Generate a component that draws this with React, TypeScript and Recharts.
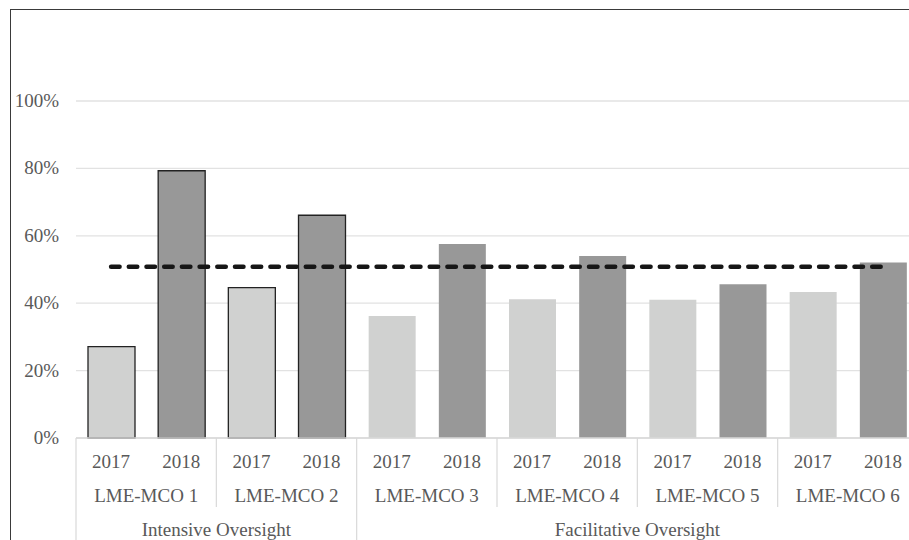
import React from "react";
import {
  ComposedChart,
  Bar,
  Cell,
  Line,
  XAxis,
  YAxis,
  CartesianGrid,
} from "recharts";

const YEARS = ["2017", "2018"];
const MCOS = [
  "LME-MCO 1",
  "LME-MCO 2",
  "LME-MCO 3",
  "LME-MCO 4",
  "LME-MCO 5",
  "LME-MCO 6",
];
const OVERSIGHT = [
  "Intensive Oversight",
  "Intensive Oversight",
  "Facilitative Oversight",
  "Facilitative Oversight",
  "Facilitative Oversight",
  "Facilitative Oversight",
];
const VALUES_2017 = [0.271, 0.446, 0.362, 0.412, 0.41, 0.433];
const VALUES_2018 = [0.793, 0.661, 0.576, 0.54, 0.456, 0.521];
const STATEWIDE = 0.508;
const Y_TICKS = [0, 0.2, 0.4, 0.6, 0.8, 1];

const data = MCOS.flatMap((mco, i) =>
  YEARS.map((year) => ({
    key: `${mco}-${year}`,
    year,
    mco,
    oversight: OVERSIGHT[i],
    value: year === "2017" ? VALUES_2017[i] : VALUES_2018[i],
    statewide: STATEWIDE,
  }))
);

const CHART_W = 940;
const CHART_H = 540;
const Y_AXIS_W = 76;
const MARGIN = { top: 101, right: 22, left: 0, bottom: 0 };
const BAND = (CHART_W - MARGIN.left - MARGIN.right - Y_AXIS_W) / data.length;

const FONT = "Liberation Serif";
const TEXT = "#595959";
const SEP = "#d9d9d9";
const LIGHT = "#d0d1d0";
const DARK = "#989898";

function XTick(props: any) {
  const { x, y, index } = props;
  const row = data[index];
  if (!row) return null;
  const left = x - BAND / 2;
  const right = x + BAND / 2;
  const superStart = index === 0 || data[index - 1].oversight !== row.oversight;
  const groupStart = index % 2 === 0;
  const superCount = data.filter((d) => d.oversight === row.oversight).length;
  const isLast = index === data.length - 1;
  return (
    <g>
      <text x={x} y={y + 30} textAnchor="middle" fontFamily={FONT} fontSize={19} fill={TEXT}>
        {row.year}
      </text>
      {!groupStart && (
        <text x={left} y={y + 64} textAnchor="middle" fontFamily={FONT} fontSize={19} fill={TEXT}>
          {row.mco}
        </text>
      )}
      {groupStart && (
        <line
          x1={left}
          x2={left}
          y1={y}
          y2={superStart ? y + 110 : y + 69}
          stroke={SEP}
          strokeWidth={1.2}
        />
      )}
      {isLast && (
        <line x1={right} x2={right} y1={y} y2={y + 110} stroke={SEP} strokeWidth={1.2} />
      )}
      {superStart && (
        <text
          x={left + (superCount * BAND) / 2}
          y={y + 98}
          textAnchor="middle"
          fontFamily={FONT}
          fontSize={19}
          fill={TEXT}
        >
          {row.oversight}
        </text>
      )}
    </g>
  );
}

function YTick(props: any) {
  const { x, y, payload } = props;
  return (
    <text x={x} y={y} dy={6} textAnchor="end" fontFamily={FONT} fontSize={19} fill={TEXT}>
      {`${Math.round(payload.value * 100)}%`}
    </text>
  );
}

export default function App() {
  return (
    <div
      style={{
        position: "absolute",
        left: 0,
        top: 0,
        width: 909,
        height: 540,
        overflow: "hidden",
        background: "#fff",
      }}
    >
      <div
        style={{
          position: "absolute",
          left: 10,
          top: 9,
          width: 960,
          height: 600,
          border: "1.5px solid #3a3a3a",
        }}
      />
      <div style={{ position: "absolute", left: 0, top: 0 }}>
        <ComposedChart width={CHART_W} height={CHART_H} data={data} margin={MARGIN}>
          <CartesianGrid vertical={false} stroke="#e2e2e2" strokeWidth={1.3} />
          <XAxis
            dataKey="key"
            interval={0}
            tickLine={false}
            tickSize={0}
            tickMargin={0}
            axisLine={{ stroke: SEP, strokeWidth: 1.3 }}
            height={CHART_H - 438}
            tick={XTick}
          />
          <YAxis
            width={Y_AXIS_W}
            domain={[0, 1]}
            ticks={Y_TICKS}
            axisLine={false}
            tickLine={false}
            tickSize={0}
            tickMargin={17}
            tick={YTick}
          />
          <Bar dataKey="value" barSize={47} isAnimationActive={false}>
            {data.map((d) => (
              <Cell
                key={d.key}
                fill={d.year === "2017" ? LIGHT : DARK}
                stroke={d.oversight === "Intensive Oversight" ? "#222" : "none"}
                strokeWidth={1.3}
              />
            ))}
          </Bar>
          <Line
            dataKey="statewide"
            stroke="#161616"
            strokeWidth={4.5}
            strokeDasharray="8.5 9.2"
            strokeLinecap="round"
            dot={false}
            activeDot={false}
            isAnimationActive={false}
          />
        </ComposedChart>
      </div>
    </div>
  );
}
